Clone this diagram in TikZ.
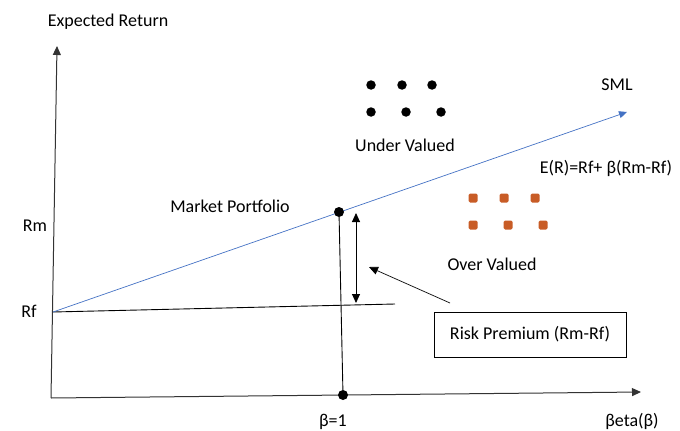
\documentclass[tikz,border=0pt]{standalone}
\usepackage{fontspec}
\setmainfont{Carlito}
\usetikzlibrary{arrows.meta}
\definecolor{smlblue}{RGB}{68,114,196}
\definecolor{overorange}{RGB}{200,92,38}

\begin{document}
\begin{tikzpicture}[x=1pt, y=-1pt, >={Triangle[length=9pt,width=8pt]},
    font=\fontsize{18}{21}\selectfont,
    dot/.style={circle, fill=black, inner sep=0pt, minimum size=10pt},
    overdot/.style={fill=overorange, inner sep=0pt, minimum size=9pt, rounded corners=1.5pt},
    underdot/.style={circle, fill=black, inner sep=0pt, minimum size=9.5pt}]
    \useasboundingbox (0,0) rectangle (680,431);
    % axes
    \coordinate (O) at (51,398);
    \coordinate (ytop) at (57,46);
    \coordinate (xend) at (641,392);
    \draw [->, line width=1pt, black!80] (O) -- (ytop);
    \draw [->, line width=1pt, black!80] (O) -- (xend);
    \node (ylab) at (108,22) {Expected Return};
    \node (xlab) at (632,421) {βeta(β)};
    % risk free line and SML
    \coordinate (rf) at (53,312);
    \coordinate (rfend) at (395,304);
    \coordinate (smlend) at (627,112);
    \draw [line width=0.9pt] (rf) -- (rfend);
    \draw [->, >={Triangle[length=8pt,width=7pt]}, smlblue, line width=0.7pt] (rf) -- (smlend);
    \node (rflab) at (29,311) {Rf};
    \node (rmlab) at (35,226) {Rm};
    \node (sml) at (617,85) {SML};
    \node (eq) at (606,168) {E(R)=Rf+ β(Rm-Rf)};
    % market portfolio at beta = 1
    \node [dot] (mp) at (339,212) {};
    \node [dot] (b1) at (343,395) {};
    \draw [line width=0.9pt] (mp) -- (b1);
    \node (mplab) at (230,206) {Market Portfolio};
    \node (b1lab) at (333,422) {β=1};
    % risk premium
    \coordinate (rptop) at (356,213);
    \coordinate (rpbot) at (356,303);
    \draw [<->, line width=0.9pt] (rptop) -- (rpbot);
    \node [draw, line width=0.9pt, minimum width=192pt, minimum height=45pt] (rp) at (530,334.5) {Risk Premium (Rm-Rf)};
    \coordinate (rptail) at (450,303);
    \coordinate (rphead) at (369,267);
    \draw [->, line width=0.7pt] (rptail) -- (rphead);
    % under valued securities
    \foreach \x/\y in {371/85, 402/85, 432/85, 371/112, 406/112, 441/112}
        \node [underdot] at (\x,\y) {};
    \node (under) at (405,145) {Under Valued};
    % over valued securities
    \foreach \x/\y in {473/198, 504/198, 535/198, 473/225, 508/225, 543/225}
        \node [overdot] at (\x,\y) {};
    \node (over) at (492,264) {Over Valued};
\end{tikzpicture}
\end{document}
